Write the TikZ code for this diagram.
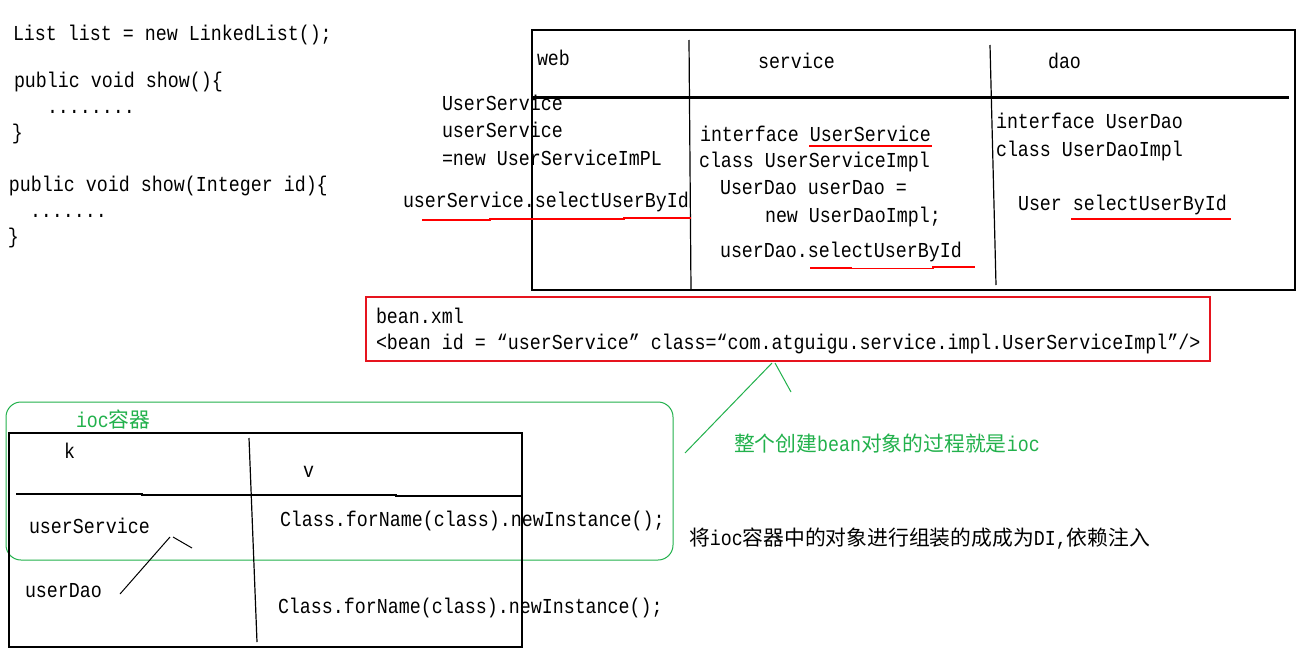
\documentclass[tikz,border=0pt]{standalone}
\usepackage{fontspec}
\newfontfamily\monof[FakeStretch=0.86]{Liberation Mono}
\newfontfamily\cjkf{Noto Sans CJK SC}
\newcommand\mono{\monof\fontsize{21.3}{24}\selectfont}
\newcommand\zh[1]{{\cjkf\fontsize{20.8}{24}\selectfont #1}}
\definecolor{pgreen}{RGB}{34,177,76}
\definecolor{pred}{RGB}{230,20,30}
\tikzset{
  txt/.style={anchor=base west, inner sep=0pt, outer sep=0pt, font=\mono},
  gtxt/.style={txt, text=pgreen},
  thin/.style={draw=black, line width=1.2pt},
  redul/.style={draw=red, line width=1.2pt},
  redbox/.style={draw=pred, line width=1.2pt},
  greenline/.style={draw=pgreen, line width=1pt},
}
\begin{document}
\begin{tikzpicture}[x=1pt,y=-1pt]
\fill[white] (0,0) rectangle (1314,664);
\useasboundingbox (0,0) rectangle (1314,664);

% ---- top-left code ----
\node[txt] (c1) at (13,40) {List list = new LinkedList();};
\node[txt] (c2) at (14,87) {public void show()\{};
\node[txt] (c3) at (47,113) {........};
\node[txt] (c4) at (12,139) {\}};
\node[txt] (c5) at (9,191) {public void show(Integer id)\{};
\node[txt] (c6) at (30,217) {.......};
\node[txt] (c7) at (8,243) {\}};

% ---- layer table ----
\draw[thin] (532,30) rectangle (1295,290);
\draw[black, line width=3pt] (532,97) -- (1289,97);
\draw[thin] (689,40) -- (691,290);
\draw[thin] (990,45) -- (996,285);

\node[txt] (web) at (537,65) {web};
\node[txt] (svc) at (758,68) {service};
\node[txt] (dao) at (1048,68) {dao};

\node[txt] (w1) at (442,110) {UserService};
\node[txt] (w2) at (442,137) {userService};
\node[txt] (w3) at (442,165) {=new UserServiceImPL};
\node[txt] (w4) at (403,207) {userService.selectUserById};
\draw[redul] (422,220) -- (490,220) -- (490,219) -- (624,219) -- (624,218) -- (691,218);

\node[txt] (s1) at (700,141) {interface UserService};
\draw[redul] (809,146) -- (932,146);
\node[txt] (s2) at (699,167) {class UserServiceImpl};
\node[txt] (s3) at (720,194) {UserDao userDao =};
\node[txt] (s4) at (765,222) {new UserDaoImpl;};
\node[txt] (s5) at (720,257) {userDao.selectUserById};
\draw[redul] (810,268) -- (851,268) -- (851,268.5) -- (933,268.5) -- (933,267) -- (975,267);

\node[txt] (d1) at (996,128) {interface UserDao};
\node[txt] (d2) at (996,156) {class UserDaoImpl};
\node[txt] (d3) at (1018,210) {User selectUserById};
\draw[redul] (1071,219) -- (1231,219);

% ---- bean.xml ----
\draw[redbox] (366,297) rectangle (1210,361);
\node[txt] (b1) at (376,323) {bean.xml};
\node[txt] (b2) at (376,349) {<bean id = “userService” class=“com.atguigu.service.impl.UserServiceImpl”/>};

\coordinate (vA) at (685,453);
\coordinate (vB) at (772,363);
\coordinate (vC) at (775,363);
\coordinate (vD) at (791,392);
\draw[greenline] (vA) -- (vB);
\draw[greenline] (vC) -- (vD);

\node[gtxt] (ioctxt) at (734,451) {\zh{整个创建}bean\zh{对象的过程就是}ioc};
\node[txt] (ditxt) at (689,545) {\zh{将}ioc\zh{容器中的对象进行组装的成成为}DI,\zh{依赖注入}};

% ---- ioc container ----
\draw[greenline, rounded corners=15pt] (6,402) rectangle (673,560);
\node[gtxt] (ioclbl) at (76,427) {ioc\zh{容器}};

\draw[thin] (9,433) rectangle (522,647);
\draw[thin] (249,438) -- (257,642);
\draw[thin] (16,494) -- (142,494) -- (142,495) -- (396,495) -- (396,496) -- (522,496);

\node[txt] (k) at (64,458) {k};
\node[txt] (v) at (303,477) {v};
\node[txt] (kus) at (29,533) {userService};
\node[txt] (vus) at (280,526) {Class.forName(class).newInstance();};
\node[txt] (kud) at (25,597) {userDao};
\node[txt] (vud) at (278,613) {Class.forName(class).newInstance();};

\coordinate (kA) at (120,594);
\coordinate (kB) at (170,537);
\coordinate (kC) at (173,537);
\coordinate (kD) at (192,548);
\draw[black, line width=1pt] (kA) -- (kB);
\draw[black, line width=1pt] (kC) -- (kD);
\end{tikzpicture}
\end{document}
